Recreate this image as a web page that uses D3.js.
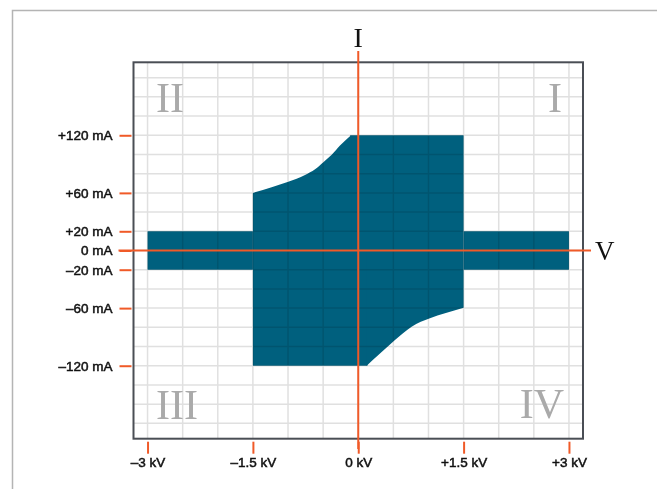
<!DOCTYPE html>
<html>
<head>
<meta charset="utf-8">
<script src="https://cdnjs.cloudflare.com/ajax/libs/d3/7.8.5/d3.min.js"></script>
<style>
	body { margin: 0; background: #fff; }
	svg { display: block; }
	.tick text { font-family: "Liberation Sans", Arial, sans-serif; font-size: 13.5px; fill: #111; stroke: #111; stroke-width: 0.5px; }
	.tick line { stroke: #f05a28; stroke-width: 2; }
	.quadrant { font-family: "Liberation Serif", "DejaVu Serif", serif; font-size: 42px; fill: #aaa; }
	.axis_name { font-family: "Liberation Serif", "DejaVu Serif", serif; fill: #111; }
</style>
</head>
<body>
<svg width="657" height="489"></svg>
<script>
// operating envelope, voltage in kV and current in mA
var bandLeftV = [-3, -1.5];
var bandRightV = [1.5, 3];
var bandI = 20;

// upper edge: curve then flat at +120 mA
var upperCurveV = [-1.5, -1.233, -0.996, -0.758, -0.615, -0.497, -0.378, -0.26, -0.103];
var upperCurveI = [60, 66, 71.7, 78.7, 84.6, 91.9, 99.6, 109.3, 120];
var upperFlatV = [-0.103, 1.5];
var upperFlatI = 120;

// lower edge: flat at -120 mA then curve
var lowerFlatV = [-1.5, 0.12];
var lowerFlatI = -120;
var lowerCurveV = [0.12, 0.286, 0.523, 0.76, 1.021, 1.235, 1.5];
var lowerCurveI = [-120, -108.9, -93.2, -79.3, -70.6, -65.4, -59.5];

var xTicks = [-3, -1.5, 0, 1.5, 3];
var xTickLabels = ["\u20133 kV", "\u20131.5 kV", "0 kV", "+1.5 kV", "+3 kV"];
var yTicks = [120, 60, 20, 0, -20, -60, -120];
var yTickLabels = ["+120 mA", "+60 mA", "+20 mA", "0 mA", "\u201320 mA", "\u201360 mA", "\u2013120 mA"];

var quadrants = ["I", "II", "III", "IV"];

var svg = d3.select("svg");
var orange = "#f05a28";
var teal = "#00607e";

var x = d3.scaleLinear().domain([-3.2, 3.2]).range([133.5, 583]);
var y = d3.scaleLinear().domain([-196, 196]).range([438.7, 62.3]);

function drawPage() {
	// outer page frame, only top and left edges are in view
	svg.append("path")
		.attr("d", "M12.5,489V10.5H657")
		.attr("fill", "none")
		.attr("stroke", "#b4b4b4")
		.attr("stroke-width", 1.5);
}

function drawShape() {
	var g = svg.append("g").attr("fill", teal);

	var rect = function(v0, v1, i0, i1) {
		return d3.area()
			.x(function(d) { return x(d); })
			.y0(y(i0))
			.y1(y(i1))([v0, v1]);
	};

	g.append("path").attr("d", rect(bandLeftV[0], bandLeftV[1], -bandI, bandI));
	g.append("path").attr("d", rect(bandRightV[0], bandRightV[1], -bandI, bandI));

	// flat parts, nudged a bit under the curves so no seam shows
	g.append("path").attr("d", rect(upperFlatV[0] - 0.01, upperFlatV[1], 0, upperFlatI));
	g.append("path").attr("d", rect(lowerFlatV[0], lowerFlatV[1] + 0.01, lowerFlatI, 0.5));

	var upper = d3.area()
		.curve(d3.curveMonotoneX)
		.x(function(d, i) { return x(upperCurveV[i]); })
		.y0(y(0))
		.y1(function(d, i) { return y(upperCurveI[i]); });

	var lower = d3.area()
		.curve(d3.curveMonotoneX)
		.x(function(d, i) { return x(lowerCurveV[i]); })
		.y0(y(0) - 0.5)
		.y1(function(d, i) { return y(lowerCurveI[i]); });

	g.append("path").attr("d", upper(upperCurveV));
	g.append("path").attr("d", lower(lowerCurveV));
}

function drawGrid() {
	// multiply so the grid shows darker on the filled area
	var g = svg.append("g").style("mix-blend-mode", "multiply");

	g.selectAll(".vgrid")
		.data(d3.range(-3, 3.01, 0.5))
		.enter()
		.append("line")
		.attr("x1", function(d) { return x(d); })
		.attr("x2", function(d) { return x(d); })
		.attr("y1", y.range()[0])
		.attr("y2", y.range()[1])
		.attr("stroke", "#e0e0e0")
		.attr("stroke-width", 1.5);

	g.selectAll(".hgrid")
		.data(d3.range(-180, 181, 20))
		.enter()
		.append("line")
		.attr("x1", x.range()[0])
		.attr("x2", x.range()[1])
		.attr("y1", function(d) { return y(d); })
		.attr("y2", function(d) { return y(d); })
		.attr("stroke", "#e0e0e0")
		.attr("stroke-width", 1.5);
}

function drawQuadrants() {
	var spots = [
		{ x: 562, y: 112, anchor: "end" },
		{ x: 156, y: 112, anchor: "start" },
		{ x: 156, y: 419, anchor: "start" },
		{ x: 564, y: 418, anchor: "end" }
	];

	svg.selectAll(".quadrant")
		.data(quadrants)
		.enter()
		.append("text")
		.attr("class", "quadrant")
		.attr("x", function(d, i) { return spots[i].x; })
		.attr("y", function(d, i) { return spots[i].y; })
		.attr("text-anchor", function(d, i) { return spots[i].anchor; })
		.text(function(d) { return d; });
}

function drawAxes() {
	svg.append("rect")
		.attr("x", x.range()[0])
		.attr("y", y.range()[1])
		.attr("width", x.range()[1] - x.range()[0])
		.attr("height", y.range()[0] - y.range()[1])
		.attr("fill", "none")
		.attr("stroke", "#4a4e55")
		.attr("stroke-width", 2);

	var yAxis = d3.axisLeft(y)
		.tickValues(yTicks)
		.tickSize(12)
		.tickPadding(7)
		.tickFormat(function(d, i) { return yTickLabels[i]; });

	svg.append("g")
		.attr("transform", "translate(" + (x.range()[0] - 2) + ",0)")
		.call(yAxis)
		.call(function(g) { g.select(".domain").remove(); });

	var xAxis = d3.axisBottom(x)
		.tickValues(xTicks)
		.tickSize(12)
		.tickPadding(4)
		.tickFormat(function(d, i) { return xTickLabels[i]; });

	svg.append("g")
		.attr("transform", "translate(0," + (y.range()[0] + 3) + ")")
		.call(xAxis)
		.call(function(g) { g.select(".domain").remove(); });

	// the I and V axes through the origin
	svg.append("line")
		.attr("x1", 118.5)
		.attr("x2", 591)
		.attr("y1", y(0))
		.attr("y2", y(0))
		.attr("stroke", orange)
		.attr("stroke-width", 2);

	svg.append("line")
		.attr("x1", x(0))
		.attr("x2", x(0))
		.attr("y1", 51)
		.attr("y2", 449)
		.attr("stroke", orange)
		.attr("stroke-width", 2);

	svg.append("text")
		.attr("class", "axis_name")
		.attr("x", x(0))
		.attr("y", 46.5)
		.attr("text-anchor", "middle")
		.style("font-size", "28px")
		.text("I");

	svg.append("text")
		.attr("class", "axis_name")
		.attr("x", 595)
		.attr("y", y(0) + 9.5)
		.style("font-size", "27px")
		.text("V");
}

drawPage();
drawShape();
drawGrid();
drawQuadrants();
drawAxes();
</script>
</body>
</html>
